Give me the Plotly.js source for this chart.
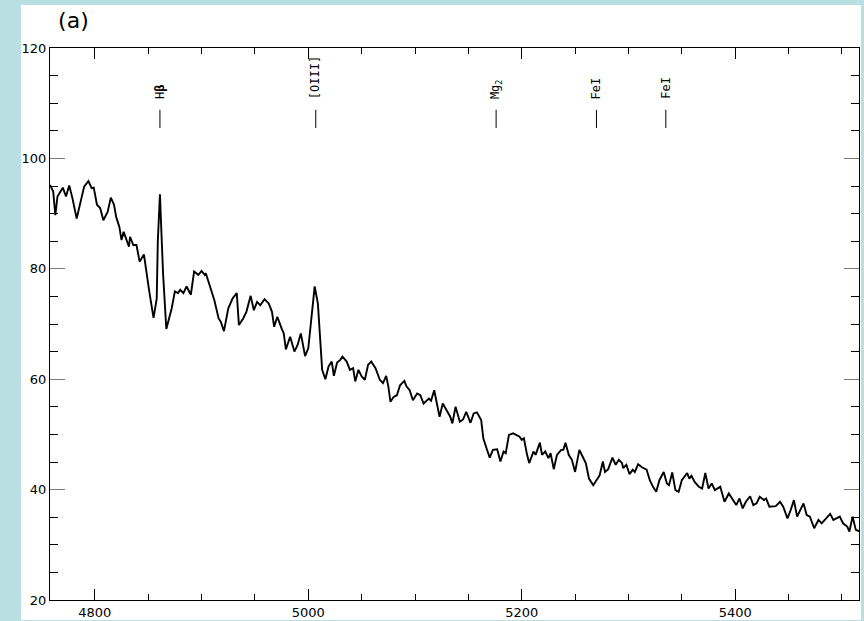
<!DOCTYPE html>
<html>
<head>
<meta charset="utf-8">
<script src="https://cdn.plot.ly/plotly-3.0.1.min.js"></script>
<style>
  html, body { margin: 0; padding: 0; background: #badfe3; }
  #chart { width: 864px; height: 621px; }
</style>
</head>
<body>
<div id="chart"></div>
<script>
// Wavelength (Å) and flux of the spectrum
const wavelength = [
  4758, 4761, 4763, 4765, 4770, 4773, 4776, 4779, 4783, 4786, 4790, 4794, 4797, 4799,
  4802, 4805, 4808, 4812, 4815, 4818, 4820, 4823, 4825, 4827, 4829, 4832, 4833, 4836,
  4839, 4842, 4846, 4848, 4851, 4855, 4858, 4859, 4861, 4862, 4864, 4867, 4870, 4872,
  4875, 4878, 4880, 4883, 4886, 4890, 4893, 4897, 4900, 4903, 4904, 4909, 4912, 4916,
  4918, 4921, 4925, 4929, 4933, 4935, 4939, 4942, 4946, 4949, 4952, 4955, 4959, 4963,
  4966, 4968, 4971, 4975, 4977, 4979, 4983, 4987, 4990, 4993, 4997, 5000, 5003, 5006,
  5009, 5011, 5013, 5016, 5019, 5022, 5024, 5027, 5030, 5032, 5036, 5039, 5042, 5044,
  5047, 5050, 5053, 5056, 5059, 5063, 5067, 5070, 5073, 5075, 5077, 5080, 5083, 5086,
  5090, 5092, 5095, 5098, 5102, 5105, 5108, 5113, 5115, 5118, 5120, 5123, 5126, 5130,
  5133, 5135, 5138, 5142, 5145, 5148, 5152, 5155, 5158, 5162, 5164, 5167, 5170, 5173,
  5177, 5180, 5183, 5185, 5188, 5192, 5195, 5198, 5200, 5202, 5205, 5207, 5211, 5213,
  5217, 5219, 5222, 5225, 5227, 5230, 5233, 5237, 5239, 5241, 5244, 5247, 5250, 5254,
  5257, 5260, 5263, 5267, 5270, 5273, 5276, 5278, 5281, 5285, 5288, 5291, 5294, 5295,
  5298, 5301, 5304, 5306, 5309, 5313, 5317, 5320, 5323, 5326, 5329, 5333, 5336, 5338,
  5341, 5344, 5347, 5350, 5355, 5357, 5359, 5362, 5366, 5369, 5372, 5375, 5378, 5381,
  5386, 5390, 5394, 5398, 5401, 5404, 5407, 5410, 5414, 5417, 5420, 5423, 5427, 5429,
  5432, 5438, 5442, 5445, 5449, 5452, 5455, 5458, 5460, 5464, 5467, 5470, 5474, 5478,
  5481, 5484, 5489, 5492, 5495, 5498, 5501, 5505, 5507, 5510, 5513, 5517
];
const flux = [
  95.2, 94.0, 89.7, 93.1, 94.7, 93.1, 95.1, 92.8, 89.1, 91.6, 94.9, 95.9, 94.6, 94.7,
  91.6, 91.0, 88.8, 90.3, 92.9, 91.6, 89.4, 87.6, 85.2, 86.7, 85.5, 84.0, 85.8, 84.3,
  84.3, 81.3, 82.6, 79.8, 75.9, 71.1, 74.6, 84.9, 93.5, 88.5, 78.9, 69.1, 71.6, 72.8,
  75.9, 75.6, 76.2, 75.6, 76.8, 75.3, 79.5, 78.9, 79.6, 78.9, 79.2, 75.9, 74.3, 71.0,
  70.4, 68.7, 72.8, 74.6, 75.6, 69.8, 71.0, 72.2, 75.1, 72.5, 74.0, 73.4, 74.5, 73.7,
  72.2, 69.5, 71.3, 69.2, 68.3, 65.4, 67.7, 65.0, 66.2, 68.3, 64.2, 65.6, 70.7, 76.8,
  73.7, 67.7, 61.7, 60.0, 62.3, 63.2, 60.6, 63.0, 63.5, 64.1, 63.2, 61.7, 62.0, 59.6,
  61.7, 60.5, 59.9, 62.6, 63.2, 62.0, 59.9, 59.3, 60.6, 58.7, 55.9, 56.8, 57.1, 58.9,
  59.7, 58.7, 58.0, 56.2, 57.4, 57.1, 55.6, 56.5, 56.1, 58.0, 55.9, 53.2, 55.6, 54.1,
  53.2, 52.0, 55.0, 52.3, 52.7, 54.1, 52.1, 53.8, 54.0, 52.6, 49.3, 47.5, 45.8, 47.2,
  47.3, 45.1, 46.9, 46.6, 49.9, 50.2, 49.9, 49.6, 49.0, 49.3, 46.3, 44.8, 46.9, 46.3,
  48.5, 46.3, 46.9, 45.7, 46.6, 43.7, 46.3, 47.2, 47.2, 48.5, 46.3, 45.4, 43.2, 47.2,
  46.0, 44.8, 42.0, 40.8, 41.7, 42.6, 45.1, 43.2, 43.7, 45.8, 44.5, 45.4, 44.8, 43.9,
  44.5, 42.8, 43.6, 43.2, 44.6, 44.0, 43.6, 41.7, 40.5, 39.6, 41.7, 43.2, 41.1, 40.8,
  43.1, 39.9, 39.6, 41.7, 43.0, 42.0, 42.5, 41.4, 40.5, 40.2, 43.0, 40.2, 41.1, 39.9,
  40.5, 37.8, 39.3, 38.1, 37.2, 38.4, 36.6, 37.8, 38.8, 37.2, 37.5, 38.7, 38.1, 38.4,
  36.9, 37.0, 37.8, 36.9, 34.8, 36.3, 38.1, 35.1, 36.0, 37.5, 35.4, 35.1, 33.0, 34.5,
  33.9, 34.5, 35.6, 34.5, 34.8, 35.1, 33.9, 33.3, 32.4, 35.1, 32.7, 32.4
];

// Spectral features marked above the continuum
const featureWaves = [4861, 5007, 5176, 5270, 5335];
const featureLabels = ['H<b>β</b>', '[OIII]', 'Mg<sub>2</sub>', 'FeI', 'FeI'];

// Axis settings
const xRange = [4758, 5516];
const yRange = [20, 120];
const xTicks = [4800, 5000, 5200, 5400];
const yTicks = [20, 40, 60, 80, 100, 120];

// Marker stick extent (flux units) and label base
const stickBottom = 105.5;
const stickTop = 108.8;
const labelBase = 110.4;

const shapes = [
  // white panel behind the figure
  {
    type: 'rect', xref: 'paper', yref: 'paper', layer: 'below',
    x0: -0.0358, x1: 1.0025, y0: -0.0362, y1: 1.0779,
    fillcolor: '#ffffff', line: { width: 0 }
  }
];
featureWaves.forEach(w => {
  shapes.push({
    type: 'line', xref: 'x', yref: 'y',
    x0: w, x1: w, y0: stickBottom, y1: stickTop,
    line: { color: '#000000', width: 1 }
  });
});

const annotations = featureWaves.map((w, i) => ({
  x: w, y: labelBase, xref: 'x', yref: 'y',
  text: featureLabels[i], textangle: -90, showarrow: false,
  xanchor: 'center', yanchor: 'bottom',
  font: { family: 'DejaVu Sans Mono', size: 12, color: '#000000' }
}));

const trace = {
  x: wavelength, y: flux, type: 'scatter', mode: 'lines',
  line: { color: '#000000', width: 1.9 },
  hoverinfo: 'skip', showlegend: false
};

const layout = {
  width: 864, height: 621,
  margin: { l: 50, r: 5, t: 48, b: 21, pad: 0 },
  paper_bgcolor: '#badfe3',
  plot_bgcolor: '#ffffff',
  font: { family: 'DejaVu Sans', size: 13, color: '#000000' },
  title: {
    text: '(a)', x: 0.01, xref: 'paper', xanchor: 'left',
    y: 0.968, yref: 'container', yanchor: 'middle',
    font: { family: 'DejaVu Sans', size: 22, color: '#000000' }
  },
  xaxis: {
    range: xRange, tickvals: xTicks, ticktext: xTicks.map(String),
    ticks: 'inside', ticklen: 11, tickwidth: 1, tickcolor: '#000000',
    showline: true, linecolor: '#000000', linewidth: 1, mirror: 'ticks',
    showgrid: false, zeroline: false,
    minor: { dtick: 50, tick0: 4800, ticks: 'inside', ticklen: 6, tickwidth: 1, tickcolor: '#000000', showgrid: false },
    tickfont: { family: 'DejaVu Sans', size: 13, color: '#000000' },
    ticklabelstandoff: 0
  },
  yaxis: {
    range: yRange, tickvals: yTicks, ticktext: yTicks.map(String),
    ticks: 'inside', ticklen: 15, tickwidth: 1, tickcolor: '#7a7a7a',
    showline: true, linecolor: '#000000', linewidth: 1, mirror: 'ticks',
    showgrid: false, zeroline: false,
    minor: { dtick: 5, tick0: 20, ticks: 'inside', ticklen: 8, tickwidth: 1, tickcolor: '#000000', showgrid: false },
    tickfont: { family: 'DejaVu Sans', size: 13, color: '#000000' }
  },
  shapes: shapes,
  annotations: annotations
};

Plotly.newPlot('chart', [trace], layout, { displayModeBar: false, staticPlot: true });
</script>
</body>
</html>
